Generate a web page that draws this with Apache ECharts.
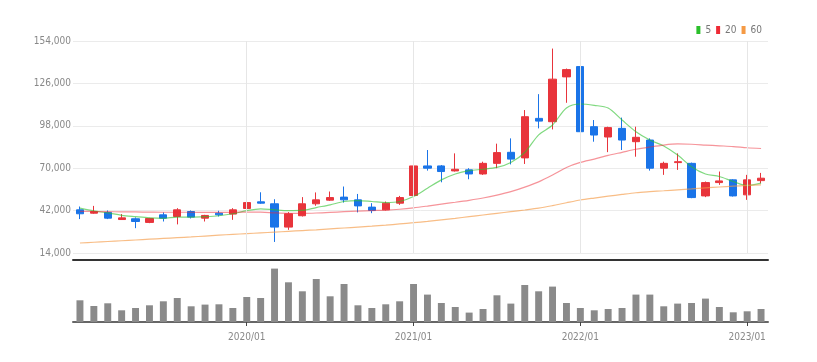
<!DOCTYPE html>
<html>
<head>
<meta charset="utf-8">
<script src="https://cdn.jsdelivr.net/npm/echarts@6/dist/echarts.min.js"></script>
<style>
html,body{margin:0;padding:0;background:#fff;}
#chart{width:817px;height:362px;}
</style>
</head>
<body>
<div id="chart"></div>
<script>
const categories = [
  '2019/01','2019/02','2019/03','2019/04','2019/05','2019/06','2019/07','2019/08','2019/09','2019/10','2019/11','2019/12',
  '2020/01','2020/02','2020/03','2020/04','2020/05','2020/06','2020/07','2020/08','2020/09','2020/10','2020/11','2020/12',
  '2021/01','2021/02','2021/03','2021/04','2021/05','2021/06','2021/07','2021/08','2021/09','2021/10','2021/11','2021/12',
  '2022/01','2022/02','2022/03','2022/04','2022/05','2022/06','2022/07','2022/08','2022/09','2022/10','2022/11','2022/12',
  '2023/01','2023/02'
];
const openV  = [42500,40300,40800,36100,36600,34200,39200,38100,41400,37000,40300,39700,
  43400,47800,46500,31100,38600,46500,48900,50900,49100,44300,42500,46900,
  52000,71500,71500,68200,68900,66200,73200,80500,76800,102900,100700,130300,
  137100,97400,90600,96300,87500,88600,70000,73700,73200,51700,60500,62300,
  52400,61800];
const closeV = [39900,41400,37000,37200,34800,36800,37000,42500,37700,38800,39200,42500,
  47300,46900,31100,39900,46500,49100,50600,49100,45100,42100,46900,50600,
  71500,70000,67800,69300,66200,73200,80300,76000,104000,101100,128800,135100,
  94100,91900,96800,88600,90400,70000,73200,74300,50600,60500,61600,51700,
  62300,63400];
const lowV   = [36400,39900,36400,35900,30400,33700,34800,32900,36800,34800,38100,35900,
  41400,46500,21300,29300,38100,45200,48400,47300,40800,40300,42100,45800,
  51300,68400,60700,67800,62700,65600,70000,72500,72800,96300,95600,113200,
  90000,87500,80600,82000,77600,68400,65600,68900,50200,50900,59000,51300,
  49100,60100];
const highV  = [44700,45100,42100,39700,37500,37200,40800,43600,42100,39200,41900,43600,
  52400,54100,49500,41000,50900,54000,54600,57900,53000,46900,48000,51700,
  73200,82000,72100,79800,70000,74300,86200,89700,108400,118900,149000,135800,
  137800,101800,97400,103400,97400,89700,74300,79800,73700,61200,67800,62700,
  65600,66900];
const ma5  = [43600,41800,40500,38900,38000,37200,36900,37700,37700,38000,38600,39900,
  42000,43200,42500,42000,42100,44000,45800,48000,48600,48000,47300,48000,
  51300,56800,62300,66200,68400,69300,70500,73800,80400,92000,98500,109800,
  112400,111500,109700,101800,94100,88600,84700,78700,71000,66200,64500,61200,
  58500,60100];
const ma20 = [41500,41400,41300,41200,41100,41000,40900,40900,40900,40800,40800,40900,
  41000,41000,40500,40200,40200,40400,40800,41300,41700,42000,42300,42900,
  43800,45000,46300,47500,48800,50300,52200,54500,57500,61000,65500,70500,
  73800,76000,78500,80500,82500,84000,85300,86000,85800,85300,84800,84300,
  83500,83000];
const ma60 = [20600,21100,21600,22100,22600,23100,23600,24100,24600,25200,25800,26300,
  26800,27300,27800,28300,28800,29300,29900,30500,31100,31700,32400,33200,
  34000,34900,35900,36900,38000,39100,40200,41300,42400,43600,45300,47200,
  49000,50300,51500,52700,53800,54500,55100,55700,56300,57000,57600,58100,
  58600,59000];
const volume = [217000,160000,187000,117000,140000,167000,207000,240000,157000,174000,177000,140000,
  250000,240000,534000,397000,307000,430000,257000,380000,167000,140000,177000,207000,
  380000,274000,190000,150000,94000,130000,267000,184000,370000,307000,354000,190000,
  140000,117000,130000,140000,274000,274000,157000,184000,190000,234000,150000,97000,
  107000,130000];
const yTicks = [14000, 154000, 28000];
const yearMarks = ['2020/01','2021/01','2022/01','2023/01'];

const FONT = "'Liberation Sans Narrow', 'DejaVu Sans Condensed', sans-serif";
const candles = categories.map((c, i) => [openV[i], closeV[i], lowV[i], highV[i]]);
const showYear = (i) => i % 12 === 0 && i > 0;

const chart = echarts.init(document.getElementById('chart'), null, {renderer: 'canvas'});
chart.setOption({
  animation: false,
  backgroundColor: '#ffffff',
  legend: {
    data: ['5', '20', '60'],
    right: 50, top: 20,
    icon: 'rect', itemWidth: 4, itemHeight: 8, itemGap: 5,
    textStyle: {color: '#777', fontSize: 10, fontFamily: FONT}
  },
  grid: [
    {left: 73, width: 695, top: 41, height: 212},
    {left: 73, width: 695, top: 262, height: 60}
  ],
  xAxis: [
    {type: 'category', data: categories, gridIndex: 0, boundaryGap: true, offset: 7,
     axisLine: {show: true, lineStyle: {color: '#333', width: 2}},
     axisTick: {show: false}, axisLabel: {show: false}, splitLine: {show: false}},
    {type: 'category', data: categories, gridIndex: 1, boundaryGap: true,
     axisLine: {show: true, lineStyle: {color: '#666', width: 2}},
     axisTick: {show: true, alignWithLabel: true, interval: showYear, length: 4, lineStyle: {color: '#444'}},
     axisLabel: {show: true, interval: showYear, color: '#888', fontSize: 10, fontFamily: FONT, margin: 10},
     splitLine: {show: false}}
  ],
  yAxis: [
    {type: 'value', gridIndex: 0, min: yTicks[0], max: yTicks[1], interval: yTicks[2],
     axisLine: {show: false}, axisTick: {show: false},
     axisLabel: {color: '#888', fontSize: 10, fontFamily: FONT, margin: 2,
       formatter: (v) => v.toLocaleString('en-US')},
     splitLine: {show: true, lineStyle: {color: '#ebebeb', width: 1}}},
    {type: 'value', gridIndex: 1, min: 0, max: 600000,
     axisLine: {show: false}, axisTick: {show: false}, axisLabel: {show: false},
     splitLine: {show: false}}
  ],
  series: [
    {name: 'grid-v', type: 'line', xAxisIndex: 0, yAxisIndex: 0, data: [], z: 1,
     markLine: {silent: true, symbol: ['none', 'none'], label: {show: false},
       lineStyle: {color: '#e6e6e6', width: 1, type: 'solid'},
       data: yearMarks.map(m => ({xAxis: m}))}},
    {name: 'K', type: 'candlestick', xAxisIndex: 0, yAxisIndex: 0, data: candles, barWidth: '55%', z: 3,
     itemStyle: {color: '#e8343b', color0: '#1a74e8', borderColor: '#e8343b', borderColor0: '#1a74e8', borderWidth: 1}},
    {name: '5', type: 'line', data: ma5, symbol: 'none', smooth: 0.3, z: 4, color: '#2bbf2b',
     lineStyle: {width: 1.2, color: '#2bbf2b', opacity: 0.6}},
    {name: '20', type: 'line', data: ma20, symbol: 'none', smooth: 0.3, z: 4, color: '#ee2a35',
     lineStyle: {width: 1.2, color: '#ee2a35', opacity: 0.5}},
    {name: '60', type: 'line', data: ma60, symbol: 'none', smooth: 0.3, z: 4, color: '#f59a45',
     lineStyle: {width: 1.2, color: '#f59a45', opacity: 0.65}},
    {name: 'Vol', type: 'bar', xAxisIndex: 1, yAxisIndex: 1, data: volume, barWidth: '50%',
     itemStyle: {color: '#8a8a8a'}}
  ]
});
</script>
</body>
</html>
